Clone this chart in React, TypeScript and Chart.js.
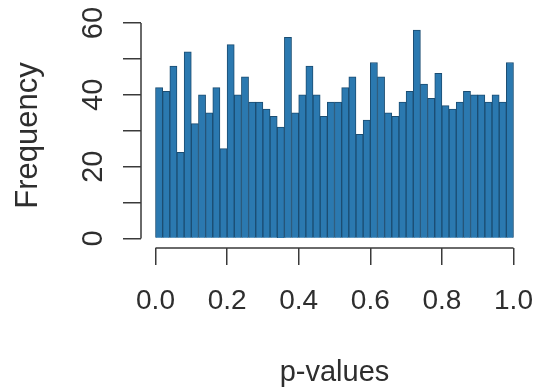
import React, { useEffect, useRef } from 'react';
import { Chart, registerables } from 'chart.js';

Chart.register(...registerables);

// Histogram of p-values: 50 bins of width 0.02 on [0, 1]
const binStart = 0;
const binWidth = 0.02;
const counts = [
  42, 41, 48, 24, 52, 32, 40, 35, 42, 25,
  54, 40, 45, 38, 38, 36, 34, 31, 56, 35,
  40, 48, 40, 34, 38, 38, 42, 45, 29, 33,
  49, 45, 35, 34, 38, 41, 58, 43, 39, 46,
  37, 36, 38, 41, 40, 40, 38, 40, 38, 49,
];
const xTicks = [0, 0.2, 0.4, 0.6, 0.8, 1.0];
const yTicks = [0, 10, 20, 30, 40, 50, 60];
const yLabelled = [0, 20, 40, 60];
const xTitle = 'p-values';
const yTitle = 'Frequency';

const FONT = "'Liberation Sans', Arial, Helvetica, sans-serif";
const AXIS = '#3a3a3a';
const TEXT = '#2e2e2e';
const BAR_FILL = '#2b79b0';
const BAR_EDGE = '#1b4d72';

const rAxes = {
  id: 'rAxes',
  afterDraw(chart: any) {
    const { ctx, chartArea, scales } = chart;
    const x = scales.x;
    const y = scales.y;
    ctx.save();
    ctx.strokeStyle = AXIS;
    ctx.lineWidth = 1.5;
    ctx.beginPath();
    ctx.moveTo(x.getPixelForValue(xTicks[0]), chartArea.bottom);
    ctx.lineTo(x.getPixelForValue(xTicks[xTicks.length - 1]), chartArea.bottom);
    ctx.moveTo(chartArea.left, y.getPixelForValue(yTicks[0]));
    ctx.lineTo(chartArea.left, y.getPixelForValue(yTicks[yTicks.length - 1]));
    ctx.stroke();
    ctx.restore();
  },
};

export default function App() {
  const ref = useRef<HTMLCanvasElement | null>(null);

  useEffect(() => {
    document.body.style.margin = '0';
    const canvas = ref.current;
    if (!canvas) return;
    const points = counts.map((c, i) => ({ x: binStart + binWidth * (i + 0.5), y: c }));
    const chart = new Chart(canvas, {
      type: 'bar',
      data: {
        datasets: [
          {
            data: points as any,
            backgroundColor: BAR_FILL,
            borderColor: BAR_EDGE,
            borderWidth: 1,
            barPercentage: 1,
            categoryPercentage: 1,
          },
        ],
      },
      options: {
        responsive: false,
        animation: false,
        devicePixelRatio: 1,
        layout: { padding: { left: 0, right: 9, top: 23, bottom: 0 } },
        plugins: { legend: { display: false }, tooltip: { enabled: false } },
        scales: {
          x: {
            type: 'linear',
            min: -0.0405,
            max: 1.0405,
            offset: false,
            afterBuildTicks: (s: any) => {
              s.ticks = xTicks.map((v) => ({ value: v }));
            },
            afterFit: (s: any) => {
              s.height = 139;
              s.paddingLeft = 0;
              s.paddingRight = 0;
            },
            grid: { offset: false, drawOnChartArea: false, drawTicks: true, tickLength: 17, color: AXIS, lineWidth: 1.5 },
            border: { display: false },
            ticks: {
              autoSkip: false,
              minRotation: 0,
              maxRotation: 0,
              padding: 19,
              color: TEXT,
              font: { family: FONT, size: 28 },
              callback: (v: any) => Number(v).toFixed(1),
            },
            title: {
              display: true,
              text: xTitle,
              color: TEXT,
              font: { family: FONT, size: 29, lineHeight: 1 },
              padding: { top: 0, bottom: 0 },
            },
          },
          y: {
            min: -2.65,
            max: 60,
            afterBuildTicks: (s: any) => {
              s.ticks = yTicks.map((v) => ({ value: v }));
            },
            afterFit: (s: any) => {
              s.width = 141;
              s.paddingTop = 0;
              s.paddingBottom = 0;
            },
            grid: { offset: false, drawOnChartArea: false, drawTicks: true, tickLength: 18, color: AXIS, lineWidth: 1.5 },
            border: { display: false },
            ticks: {
              autoSkip: false,
              minRotation: 90,
              maxRotation: 90,
              crossAlign: 'center',
              padding: 13,
              color: TEXT,
              font: { family: FONT, size: 29 },
              callback: (v: any) => (yLabelled.includes(Number(v)) ? String(v) : ''),
            },
            title: {
              display: true,
              text: yTitle,
              color: TEXT,
              font: { family: FONT, size: 31, lineHeight: 1.2 },
              padding: { top: 10, bottom: 0 },
            },
          },
        },
      },
      plugins: [rAxes],
    } as any);
    return () => chart.destroy();
  }, []);

  return (
    <div style={{ position: 'absolute', left: 0, top: 0, width: 537, height: 387 }}>
      <canvas ref={ref} width={537} height={387} style={{ width: 537, height: 387, display: 'block' }} />
    </div>
  );
}
